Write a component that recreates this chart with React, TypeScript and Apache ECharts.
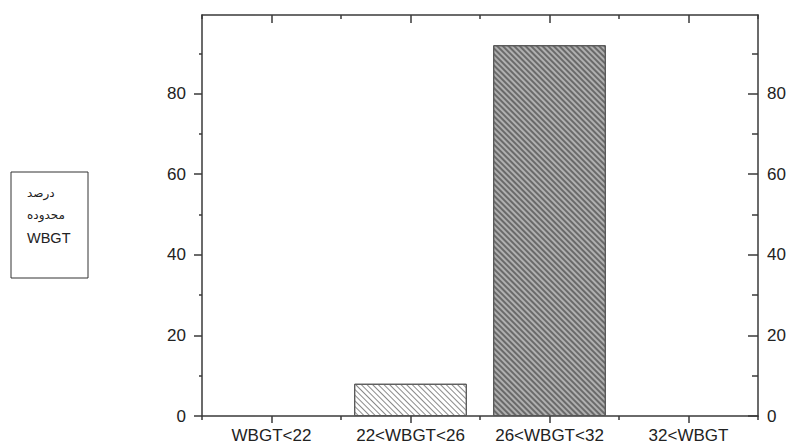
import React, { useEffect, useRef } from "react";
import * as echarts from "echarts";

const categories = ["WBGT<22", "22<WBGT<26", "26<WBGT<32", "32<WBGT"];
const percentValues = [0, 8, 92, 0];
const yTickValues = [0, 20, 40, 60, 80];
const boxLines = ["درصد", "محدوده", "WBGT"];

const FONT = "Liberation Sans";
const AX = "#3a3a3a";

export default function App() {
  const ref = useRef<HTMLDivElement>(null);
  useEffect(() => {
    if (!ref.current) return;
    const chart = echarts.init(ref.current, undefined, { renderer: "svg" });
    const lightHatch = {
      color: "#ffffff",
      borderColor: "#555",
      borderWidth: 1,
      decal: {
        symbol: "rect",
        symbolSize: 1,
        dashArrayX: [1, 0],
        dashArrayY: [1, 3],
        rotation: Math.PI / 4,
        color: "#8a8a8a",
      },
    };
    const darkHatch = {
      color: "#b0b0b0",
      borderColor: "#555",
      borderWidth: 1,
      decal: {
        symbol: "rect",
        symbolSize: 1,
        dashArrayX: [1, 0],
        dashArrayY: [2, 2],
        rotation: Math.PI / 4,
        color: "#6a6a6a",
      },
    };
    const data = percentValues.map((v, i) => ({
      value: v,
      itemStyle: { ...(i === 1 ? lightHatch : darkHatch), borderWidth: v === 0 ? 0 : 1 },
    }));
    const baseX = {
      type: "category" as const,
      data: categories,
      boundaryGap: true,
      axisLine: { show: false, onZero: false },
      axisLabel: { show: false },
      splitLine: { show: false },
    };
    chart.setOption({
      animation: false,
      aria: { enabled: false },
      grid: { left: 202, right: 32, top: 15, bottom: 31, containLabel: false },
      xAxis: [
        {
          ...baseX,
          position: "bottom",
          axisLine: { show: true, onZero: false, lineStyle: { color: AX, width: 1.5 } },
          axisTick: { show: true, alignWithLabel: true, length: 7, lineStyle: { color: AX, width: 1.5 } },
          axisLabel: { show: true, interval: 0, margin: 11, color: "#222", fontFamily: FONT, fontSize: 17 },
        },
        {
          ...baseX,
          position: "top",
          axisLine: { show: true, onZero: false, lineStyle: { color: AX, width: 1.5 } },
          axisTick: { show: true, inside: true, alignWithLabel: true, length: 8, lineStyle: { color: AX, width: 1.5 } },
        },
        {
          ...baseX,
          position: "bottom",
          axisTick: { show: true, alignWithLabel: false, interval: 0, length: 4, lineStyle: { color: AX, width: 1.5 } },
        },
        {
          ...baseX,
          position: "top",
          axisTick: { show: true, inside: true, alignWithLabel: false, interval: 0, length: 4, lineStyle: { color: AX, width: 1.5 } },
        },
      ],
      yAxis: [
        {
          type: "value",
          position: "left",
          min: 0,
          max: 99.5,
          interval: 20,
          splitLine: { show: false },
          axisLine: { show: true, onZero: false, lineStyle: { color: AX, width: 1.5 } },
          axisTick: { show: true, length: 8, customValues: yTickValues, lineStyle: { color: AX, width: 1.5 } },
          minorTick: { show: true, splitNumber: 2, length: 3, lineStyle: { color: AX, width: 1.5 } },
          axisLabel: { show: true, margin: 16, customValues: yTickValues, color: "#222", fontFamily: FONT, fontSize: 17 },
        },
        {
          type: "value",
          position: "right",
          min: 0,
          max: 99.5,
          interval: 20,
          splitLine: { show: false },
          axisLine: { show: true, onZero: false, lineStyle: { color: AX, width: 1.5 } },
          axisTick: { show: true, inside: true, length: 10, customValues: yTickValues, lineStyle: { color: AX, width: 1.5 } },
          minorTick: { show: true, splitNumber: 2, length: 6, lineStyle: { color: AX, width: 1.5 } },
          axisLabel: { show: true, margin: 9, customValues: yTickValues, color: "#222", fontFamily: FONT, fontSize: 17 },
        },
      ],
      series: [
        {
          type: "bar",
          xAxisIndex: 0,
          yAxisIndex: 0,
          data,
          barWidth: "81%",
        },
      ],
      graphic: [
        {
          type: "rect",
          shape: { x: 11, y: 172, width: 77, height: 106 },
          style: { fill: "#fff", stroke: "#333", lineWidth: 1 },
        },
        ...boxLines.map((t, i) => ({
          type: "text",
          x: 27,
          y: [193, 215, 238][i],
          style: {
            text: t,
            fill: "#222",
            font: i === 2 ? `14.5px "${FONT}"` : `12px "DejaVu Sans", sans-serif`,
            textAlign: "left",
            textVerticalAlign: "middle",
          },
        })),
      ],
    });
    return () => chart.dispose();
  }, []);
  return (
    <div
      ref={ref}
      style={{ position: "absolute", left: 0, top: 0, width: 790, height: 447, background: "#fff" }}
    />
  );
}
